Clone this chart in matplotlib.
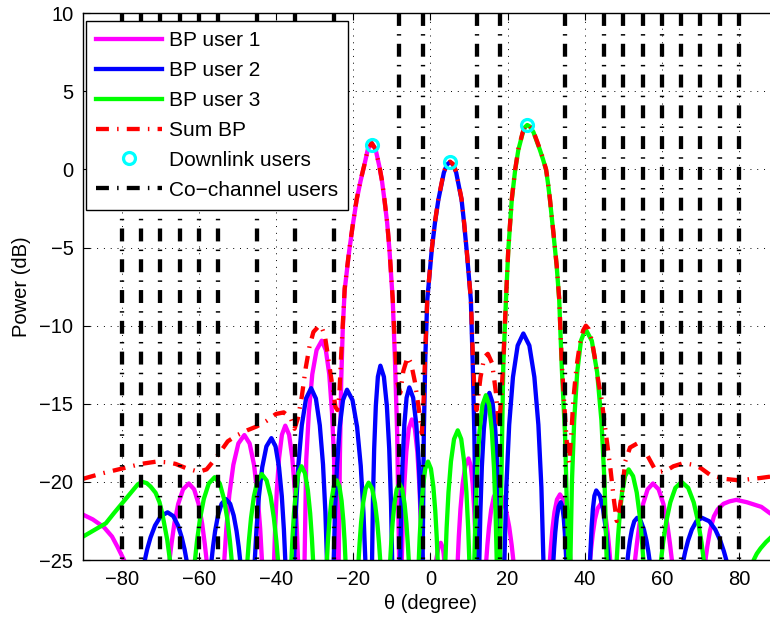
import matplotlib
matplotlib.use("Agg")
import matplotlib.pyplot as plt

plt.rcParams['font.family'] = ['Liberation Sans', 'DejaVu Sans']
plt.rcParams['axes.unicode_minus'] = True

# ---- beampattern data (angle in degrees, power in dB) ----
theta_user1 = [-90, -87.5, -84.6, -82.5, -81.1, -79.4, -78.5,
               -67.6, -67.1, -66.35, -65.35, -64.1, -62.6, -61.22, -60.07, -59.15, -58.46, -58.0, -55.7,
               -53.4, -52.88, -52.1, -51.06, -49.76, -48.2, -46.84, -45.7, -44.79, -44.1, -43.65, -42.0,
               -40.5, -40.21, -39.78, -39.2, -38.47, -37.6, -36.61, -35.79, -35.13, -34.63, -34.3, -33.4,
               -32.6, -32.16, -31.49, -30.6, -29.49, -28.15, -27.09, -26.2, -25.49, -24.95, -24.6, -24.2,
               -23.75, -23.45, -23.1, -22.7, -22.2, -21.0, -20.0, -19.1, -18.1, -17.2, -16.2, -15.2,
               -14.2, -13.2, -12.5, -11.9, -11.2, -10.6, -9.75, -9.2, -8.6, -8.1, -7.75,
               -7.4, -7.14, -6.75, -6.23, -5.58, -4.8, -4.02, -3.37, -2.85, -2.46, -2.2, -0.5,
               1.5, 1.8, 2.1, 2.7, 3.2, 3.45, 3.6, 5.0,
               7.1, 7.38, 7.8, 8.36, 9.06, 9.9, 10.49, 10.97, 11.36, 11.66, 11.85, 12.3,
               14.5, 14.78, 15.2, 15.76, 16.46, 17.3, 18.56, 19.61, 20.45, 21.08, 21.5, 26.0,
               31.0, 31.26, 31.65, 32.17, 32.82, 33.6, 34.41, 35.09, 35.63, 36.03, 36.3, 38.8,
               41.4, 41.68, 42.1, 42.66, 43.36, 44.2, 44.92, 45.52, 46.0, 46.36, 46.6, 49.8,
               53.05, 53.52, 54.21, 55.14, 56.31, 57.7, 59.17, 60.4, 61.38, 62.11, 62.6, 67.0,
               71.3, 71.8, 72.5, 73.5, 74.5, 76.0, 77.5, 79.3, 82.0, 85.8, 88.0, 90.0]
bp_user1 = [-22.1, -22.4, -22.9, -23.5, -24.15, -25, -40,
            -25, -23.98, -22.66, -21.41, -20.48, -20.1, -20.48, -21.41, -22.66, -23.98, -25, -40,
            -25, -23.0, -20.82, -18.91, -17.54, -17.0, -17.54, -18.91, -20.82, -23.0, -25, -40,
            -25, -22.85, -20.5, -18.45, -16.98, -16.4, -16.98, -18.45, -20.5, -22.85, -25, -40,
            -25, -18.56, -15.56, -13.11, -11.56, -10.96, -11.56, -13.11, -15.56, -18.56, -25, -40,
            -25, -18.5, -13.5, -10.2, -7.7, -5.15, -3.4, -1.95, -0.75, 0.18, 1.3, 1.68,
            1.3, 0.18, -0.8, -1.95, -3.4, -5.15, -8.35, -12.0, -16.9, -25, -40,
            -25, -22.65, -20.2, -18.07, -16.58, -16.0, -16.58, -18.07, -20.2, -22.65, -25, -40,
            -25, -24.6, -24.2, -23.9, -24.2, -24.6, -25, -40,
            -25, -23.48, -21.75, -20.15, -18.98, -18.5, -18.98, -20.15, -21.75, -23.48, -25, -40,
            -25, -24.05, -22.9, -21.79, -20.94, -20.6, -20.94, -21.79, -22.9, -24.05, -25, -40,
            -25, -24.1, -22.99, -21.93, -21.13, -20.8, -21.13, -21.93, -22.99, -24.1, -25, -40,
            -25, -24.26, -23.33, -22.4, -21.69, -21.4, -21.69, -22.4, -23.33, -24.26, -25, -40,
            -25, -23.98, -22.66, -21.41, -20.48, -20.1, -20.48, -21.41, -22.66, -23.98, -25, -40,
            -25, -24.1, -23.1, -22.2, -21.75, -21.4, -21.25, -21.15, -21.3, -21.6, -22.0, -22.3]

theta_user2 = [-90, -75,
               -74.0, -73.41, -72.53, -71.35, -69.87, -68.1, -66.63, -65.4, -64.43, -63.69, -63.2, -60.0,
               -56.7, -56.33, -55.78, -55.04, -54.11, -53.0, -51.89, -50.97, -50.23, -49.67, -49.3, -47.4,
               -45.5, -45.07, -44.43, -43.57, -42.49, -41.2, -40.12, -39.22, -38.5, -37.96, -37.6, -36.4,
               -35.3, -34.86, -34.2, -33.32, -32.22, -30.9, -29.67, -28.65, -27.82, -27.21, -26.8, -25.9,
               -25.05, -24.71, -24.19, -23.5, -22.64, -21.6, -20.18, -18.99, -18.04, -17.33, -16.85, -16.0,
               -15.1, -14.89, -14.56, -14.13, -13.6, -12.95, -12.04, -11.27, -10.66, -10.2, -9.9, -8.85,
               -7.8, -7.57, -7.21, -6.74, -6.16, -5.45, -4.46, -3.64, -2.98, -2.48, -2.15, -2.07,
               -2.0, -1.7, -1.3, -0.8, 0.36, 1.2, 2.07, 3.5, 4.3, 5.1, 5.9, 6.7, 8.1, 8.75, 9.4, 10.5,
               11.0, 11.4, 11.85, 12.3,
               12.7, 12.96, 13.35, 13.87, 14.52, 15.3, 16.13, 16.82, 17.37, 17.78, 18.06, 18.6,
               19.2, 19.69, 20.43, 21.41, 22.63, 24.1, 25.66, 26.96, 28.0, 28.78, 29.3, 30.6,
               31.9, 32.09, 32.38, 32.76, 33.23, 33.8, 34.22, 34.57, 34.85, 35.06, 35.2, 38.5,
               41.4, 41.56, 41.8, 42.12, 42.52, 43.0, 43.96, 44.76, 45.4, 45.88, 46.2, 48.6,
               51.1, 51.35, 51.73, 52.23, 52.85, 53.6, 54.56, 55.36, 56.0, 56.48, 56.8, 61.0,
               65.6, 66.08, 66.8, 67.76, 68.96, 70.4, 72.29, 73.87, 75.13, 76.07, 76.7, 78.0, 90.0]
bp_user2 = [-40, -40,
            -25, -24.33, -23.56, -22.79, -22.19, -21.95, -22.19, -22.79, -23.56, -24.33, -25, -40,
            -25, -24.16, -23.14, -22.15, -21.4, -21.1, -21.4, -22.15, -23.14, -24.16, -25, -40,
            -25, -23.05, -20.92, -19.06, -17.73, -17.2, -17.73, -19.06, -20.92, -23.05, -25, -40,
            -25, -21.91, -18.88, -16.38, -14.66, -14.0, -14.66, -16.38, -18.88, -21.91, -25, -40,
            -25, -22.01, -18.98, -16.48, -14.76, -14.1, -14.76, -16.48, -18.98, -22.01, -25, -40,
            -25, -21.31, -17.88, -15.13, -13.27, -12.56, -13.27, -15.13, -17.88, -21.31, -25, -40,
            -25, -21.86, -18.83, -16.33, -14.61, -13.95, -14.61, -16.33, -18.83, -21.86, -25, -40,
            -25, -17.0, -12.0, -8.35, -5.15, -3.4, -1.95, -0.2, 0.31, 0.48, 0.31, -0.2, -1.95, -3.45, -5.15, -8.35,
            -12.6, -16.9, -25, -40,
            -25, -21.97, -19.03, -16.61, -14.94, -14.3, -14.94, -16.61, -19.03, -21.97, -25, -40,
            -25, -20.35, -16.35, -13.29, -11.27, -10.5, -11.27, -13.29, -16.35, -20.35, -25, -40,
            -25, -24.22, -23.24, -22.3, -21.59, -21.3, -21.59, -22.3, -23.24, -24.22, -25, -40,
            -25, -24.04, -22.87, -21.75, -20.89, -20.55, -20.89, -21.75, -22.87, -24.04, -25, -40,
            -25, -24.44, -23.75, -23.06, -22.52, -22.3, -22.52, -23.06, -23.75, -24.44, -25, -40,
            -25, -24.44, -23.75, -23.06, -22.52, -22.3, -22.52, -23.06, -23.75, -24.44, -25, -40, -40]

theta_user3 = [-90, -87.2, -84.1, -82.0, -80.0, -77.0, -75.8, -74.6, -73.5, -72.5, -71.2, -70.2,
               -69.5, -68.2, -67.5, -64.0,
               -61.0, -60.49, -59.73, -58.71, -57.43, -55.9, -54.58, -53.48, -52.6, -51.94, -51.5, -49.5,
               -47.4, -47.03, -46.48, -45.74, -44.81, -43.7, -42.44, -41.39, -40.55, -39.92, -39.5, -37.7,
               -36.0, -35.74, -35.35, -34.83, -34.18, -33.4, -32.5, -31.75, -31.15, -30.7, -30.4, -28.6,
               -26.8, -26.55, -26.16, -25.65, -25.02, -24.25, -23.58, -23.01, -22.56, -22.23, -22.0, -20.3,
               -18.6, -18.34, -17.95, -17.43, -16.78, -16.0, -15.1, -14.35, -13.75, -13.3, -13.0, -11.7,
               -10.4, -10.16, -9.8, -9.32, -8.72, -8.0, -7.28, -6.68, -6.2, -5.84, -5.6, -4.3,
               -3.0, -2.76, -2.4, -1.92, -1.32, -0.6, 0.15, 0.775, 1.275, 1.65, 1.9, 2.9,
               3.9, 4.22, 4.7, 5.34, 6.14, 7.1, 8.0, 8.75, 9.35, 9.8, 10.1, 10.8,
               11.4, 11.7, 12.15, 12.75, 13.5, 14.4, 15.24, 15.94, 16.5, 16.92, 17.2, 17.7,
               18.06, 18.6, 18.9, 19.6, 20.2, 21.1, 21.95, 22.8, 23.9, 24.5, 25.1, 25.8, 26.7, 28.4,
               29.2, 30.0, 30.5, 31.0, 31.45, 31.9, 32.3, 32.75, 33.05, 33.4, 34.05, 34.9, 35.35, 35.8, 36.05,
               36.3, 36.69, 37.28, 38.06, 39.03, 40.2, 41.85, 43.23, 44.33, 45.15, 45.7, 47.0,
               48.3, 48.61, 49.08, 49.7, 50.47, 51.4, 52.54, 53.49, 54.25, 54.82, 55.2, 57.5,
               59.8, 60.33, 61.13, 62.19, 63.51, 65.1, 66.83, 68.26, 69.41, 70.28, 70.85, 77.0,
               83.8, 84.6, 85.6, 87.0, 88.05, 90.0]
bp_user3 = [-23.5, -23.1, -22.65, -22.0, -21.4, -20.5, -20.15, -20.0, -20.08, -20.3, -20.7, -21.3,
            -22.0, -23.7, -25, -40,
            -25, -23.81, -22.41, -21.09, -20.1, -19.7, -20.1, -21.09, -22.41, -23.81, -25, -40,
            -25, -23.77, -22.32, -20.94, -19.91, -19.5, -19.91, -20.94, -22.32, -23.77, -25, -40,
            -25, -23.61, -22.01, -20.53, -19.44, -19.0, -19.44, -20.53, -22.01, -23.61, -25, -40,
            -25, -23.78, -22.46, -21.21, -20.28, -19.9, -20.28, -21.21, -22.46, -23.78, -25, -40,
            -25, -23.93, -22.61, -21.36, -20.43, -20.05, -20.43, -21.36, -22.61, -23.93, -25, -40,
            -25, -23.98, -22.66, -21.41, -20.48, -20.1, -20.48, -21.41, -22.66, -23.98, -25, -40,
            -25, -23.54, -21.86, -20.3, -19.16, -18.7, -19.16, -20.3, -21.86, -23.54, -25, -40,
            -25, -22.94, -20.67, -18.69, -17.26, -16.7, -17.26, -18.69, -20.67, -22.94, -25, -40,
            -25, -22.04, -19.13, -16.73, -15.08, -14.45, -15.08, -16.73, -19.13, -22.04, -25, -40,
            -25, -16.9, -12.6, -8.35, -5.15, -1.95, -0.1, 1.25, 2.3, 2.7, 2.85, 2.75, 2.4, 1.25,
            0.65, -0.03, -0.9, -1.95, -3.0, -4.1, -5.1, -6.2, -7.2, -8.35, -12.6, -16.9, -21.2, -25, -40,
            -25, -20.05, -16.05, -12.99, -10.97, -10.2, -10.97, -12.99, -16.05, -20.05, -25, -40,
            -25, -23.67, -22.12, -20.68, -19.63, -19.2, -19.63, -20.68, -22.12, -23.67, -25, -40,
            -25, -23.88, -22.56, -21.31, -20.38, -20.0, -20.38, -21.31, -22.56, -23.88, -25, -40,
            -25, -24.6, -24.25, -23.85, -23.6, -23.2]

theta_sum = [-90, -85, -80, -75, -71, -68, -66, -63, -60, -58, -56.5, -54.5, -52.5, -50,
             -47.5, -45, -42.5, -40, -38, -36.2, -35.2, -34.3, -33.3, -32.3, -31.3, -30.3,
             -29.0, -28.3, -27.3, -26.5, -25.5, -24.6, -24.1, -23.6, -23.2, -22.7, -22.2, -21.0,
             -20.0, -19.1, -18.1, -17.2, -16.2, -15.2, -14.2, -13.2, -12.5, -11.9, -11.2, -10.6,
             -9.75, -9.2, -8.6, -7.8, -7.0, -5.9,
             -5.0, -4.0, -3.0, -2.2, -1.7, -1.3, -0.8, 0.36, 1.2, 2.07, 3.5, 4.3, 5.1, 5.9, 6.7,
             8.1, 8.75, 9.4, 10.5, 11.0, 11.5, 12.0, 13.0, 14.0, 14.9, 16.0, 17.0, 17.8, 18.4,
             18.9, 19.6, 20.2, 21.1, 21.95, 22.8, 23.9, 24.5, 25.1, 25.8, 26.7, 28.4, 29.2, 30.0,
             30.5, 31.0, 31.45, 31.9, 32.3, 32.75, 33.05, 33.4, 34.05,
             34.9, 35.5, 36.0, 36.6, 37.05, 37.9, 38.8, 39.6, 40.3, 41.0, 41.8, 42.6, 43.5, 44.4, 45.7,
             46.6, 47.6, 48.3, 49.0, 49.6, 50.5, 51.75, 53.9, 56.0, 58.0, 59.5, 61.0, 63.0,
             65.6, 68.0, 70.0, 72.5, 76.0, 80.0, 85.5, 90.0]
bp_sum = [-19.8, -19.45, -19.15, -18.85, -18.7, -18.75, -18.85, -19.15, -19.35, -19.2, -18.75,
          -18.1, -17.4, -17.0, -16.7, -16.45, -16.1, -15.65, -15.55, -15.9, -16.6, -15.9, -14.5,
          -12.7, -11.3, -10.4, -10.05, -10.0, -10.7, -12.0, -13.7, -15.2, -15.4, -14.5, -12.3,
          -10.0, -7.6, -5.1, -3.35, -1.9, -0.7, 0.2, 1.3, 1.7, 1.3, 0.2, -0.75, -1.9, -3.35, -5.1,
          -8.3, -11.2, -13.6, -14.3, -12.9, -12.0,
          -12.4, -13.6, -15.3, -16.9, -14.5, -11.5, -8.3, -5.1, -3.35, -1.9, -0.15, 0.35, 0.5, 0.35, -0.15,
          -1.9, -3.4, -5.1, -8.3, -11.8, -14.6, -15.4, -13.3, -12.0, -11.8, -12.4, -14.3, -16.6, -14.5,
          -12.3, -8.3, -5.1, -1.9, -0.05, 1.3, 2.35, 2.75, 2.9, 2.8, 2.45, 1.3, 0.7, 0.0,
          -0.85, -1.9, -2.95, -4.05, -5.05, -6.15, -7.15, -8.3, -12.3,
          -15.8, -18.0, -18.8, -16.7, -14.75, -12.6, -11.1, -10.3, -10.0, -10.2, -10.9, -12.0, -13.5, -14.75, -17.3,
          -19.0, -21.2, -22.5, -21.8, -20.8, -18.7, -17.8, -17.5, -18.2, -19.1, -19.35, -19.3, -19.0,
          -18.8, -18.9, -19.1, -19.55, -19.8, -19.9, -19.75, -19.6]

downlink_theta = [-15, 5, 25]
downlink_bp = [1.6, 0.5, 2.85]

cochannel_theta = [-80, -75, -70, -65, -60, -55, -45, -35, -25, -8, -2,
                   12, 18, 35, 45, 50, 55, 60, 65, 70, 75, 80]

x_ticks = [-80, -60, -40, -20, 0, 20, 40, 60, 80]
y_ticks = [-25, -20, -15, -10, -5, 0, 5, 10]

# ---- figure ----
fig = plt.figure(figsize=(7.7, 6.22), dpi=100)
ax = fig.add_axes([83.1 / 770, 62 / 622, 694.5 / 770, 546.7 / 622])

lw = 3.1
dashdot = (0, (3.0, 1.9, 0.35, 1.9))

ax.plot(theta_user1, bp_user1, color='#FF00FF', lw=lw, label='BP user 1')
ax.plot(theta_user2, bp_user2, color='#0000FF', lw=lw, label='BP user 2')
ax.plot(theta_user3, bp_user3, color='#00FF00', lw=lw, label='BP user 3')
ax.plot(theta_sum, bp_sum, color='#FF0000', lw=lw, linestyle=dashdot, label='Sum BP')
ax.plot(downlink_theta, downlink_bp, linestyle='none', marker='o', markersize=8.6,
        markerfacecolor='none', markeredgecolor='#00FFFF', markeredgewidth=2.3,
        label='Downlink users')
for i, t in enumerate(cochannel_theta):
    ax.plot([t, t], [10, -25], color='k', lw=lw, linestyle=dashdot,
            label='Co\u2212channel users' if i == 0 else None)

ax.set_xlim(-90, 90)
ax.set_ylim(-25, 10)
ax.set_xticks(x_ticks)
ax.set_yticks(y_ticks)
ax.tick_params(direction='in', length=5, width=0.8, labelsize=14.5, top=True, right=True, pad=7)
ax.grid(True, color='k', lw=0.7, linestyle=(0, (1, 6)))
ax.set_axisbelow(True)
for s in ax.spines.values():
    s.set_linewidth(1.0)

ax.set_xlabel('\u03b8 (degree)', fontsize=14.5, labelpad=4)
ax.set_ylabel('Power (dB)', fontsize=14.5, labelpad=6)

leg = ax.legend(loc='upper left', bbox_to_anchor=(0.004, 0.986), borderaxespad=0,
                fontsize=15, handlelength=3.15, handletextpad=0.32, labelspacing=0.52,
                borderpad=0.5, fancybox=False, framealpha=1, edgecolor='k')
leg.get_frame().set_linewidth(1.0)

fig.savefig('out.png', dpi=100)
